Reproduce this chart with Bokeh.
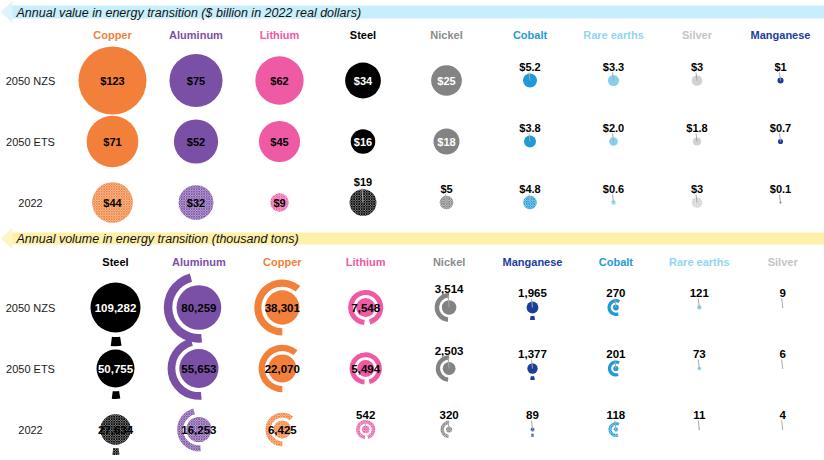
import math
from bokeh.plotting import figure
from bokeh.models import Range1d, ColumnDataSource
from bokeh.embed import file_html
from bokeh.resources import INLINE
from bokeh.core.properties import value

# ---------------- data ----------------
scenarios = ["2050 NZS", "2050 ETS", "2022"]

value_title = "Annual value in energy transition ($ billion in 2022 real dollars)"
value_materials = ["Copper", "Aluminum", "Lithium", "Steel", "Nickel", "Cobalt",
                   "Rare earths", "Silver", "Manganese"]
value_nzs = [123, 75, 62, 34, 25, 5.2, 3.3, 3, 1]
value_ets = [71, 52, 45, 16, 18, 3.8, 2.0, 1.8, 0.7]
value_2022 = [44, 32, 9, 19, 5, 4.8, 0.6, 3, 0.1]
value_nzs_labels = ["$123", "$75", "$62", "$34", "$25", "$5.2", "$3.3", "$3", "$1"]
value_ets_labels = ["$71", "$52", "$45", "$16", "$18", "$3.8", "$2.0", "$1.8", "$0.7"]
value_2022_labels = ["$44", "$32", "$9", "$19", "$5", "$4.8", "$0.6", "$3", "$0.1"]

volume_title = "Annual volume in energy transition (thousand tons)"
volume_materials = ["Steel", "Aluminum", "Copper", "Lithium", "Nickel", "Manganese",
                    "Cobalt", "Rare earths", "Silver"]
volume_nzs = [109282, 80259, 38301, 7548, 3514, 1965, 270, 121, 9]
volume_ets = [50755, 55653, 22070, 5494, 2503, 1377, 201, 73, 6]
volume_2022 = [27634, 16253, 6425, 542, 320, 89, 118, 11, 4]

# ---------------- styles ----------------
fill_colors = {"Copper": "#f2803a", "Aluminum": "#7a50a6", "Lithium": "#ee5aa3",
               "Steel": "#000000", "Nickel": "#838383", "Cobalt": "#1f9ad6",
               "Rare earths": "#88cfef", "Silver": "#d2d2d2", "Manganese": "#1b3d9c"}
head_colors = {"Copper": "#f2803a", "Aluminum": "#7a50a6", "Lithium": "#ee5aa3",
               "Steel": "#000000", "Nickel": "#8c8c8c", "Cobalt": "#1f9ad6",
               "Rare earths": "#92d5f2", "Silver": "#c4c4c4", "Manganese": "#1b3d9c"}
dark = {"Steel", "Nickel"}
# decorative partial rings of the volume bubbles (start, end angle in degrees)
ring_angles = {"Aluminum": (105, 275), "Copper": (50, 270), "Lithium": (-75, 265),
               "Nickel": (90, 265), "Cobalt": (60, 290), "Steel": (263, 279),
               "Manganese": (258, 282)}

FONT = value("Liberation Sans")
W, H = 824, 460

p = figure(width=W, height=H, x_range=Range1d(0, W), y_range=Range1d(0, H),
           output_backend="svg", toolbar_location=None, min_border=0,
           x_axis_location=None, y_axis_location=None)
p.grid.visible = False
p.outline_line_color = None
p.background_fill_color = "white"
p.border_fill_color = "white"


def sy(y):
    return H - y


def banner(top, bottom, color, head_color, title):
    yc = (top + bottom) / 2
    p.quad(left=10, right=W, top=sy(top), bottom=sy(bottom), fill_color=color,
           line_color=None)
    p.patch([0, 12, 12], [sy(yc), sy(yc - 11), sy(yc + 11)], fill_color=head_color,
            line_color=None)
    p.text(x=[16], y=[sy(yc + 0.5)], text=[title], text_font=FONT,
           text_font_size="12.5px", text_font_style="italic", text_color="#111111",
           text_align="left", text_baseline="middle")


def section(materials, series, labels, x0, dx, header_y, rows_y, rfun, rings, label_size):
    xs = [x0 + i * dx for i in range(len(materials))]
    # headers
    p.text(x=xs, y=[sy(header_y)] * len(xs), text=materials, text_font=FONT,
           text_font_size="11px", text_font_style="bold",
           text_color=[head_colors[m] for m in materials],
           text_align="center", text_baseline="middle")
    # row labels
    p.text(x=[30] * 3, y=[sy(y) for y in rows_y], text=scenarios, text_font=FONT,
           text_font_size="11px", text_color="#1a1a1a", text_align="center",
           text_baseline="middle")
    for k, (vals, labs, ry) in enumerate(zip(series, labels, rows_y)):
        hatched = (k == 2)
        cx, cy, rr, cols = [], [], [], []
        rx, ryy, rin, rout, ra0, ra1, rcol = [], [], [], [], [], [], []
        inx, iny, intext, incol = [], [], [], []
        abx, aby, abtext = [], [], []
        lx0, ly0, lx1, ly1 = [], [], [], []
        for i, (m, v, lab) in enumerate(zip(materials, vals, labs)):
            r = rfun(v)
            c = fill_colors[m]
            cx.append(xs[i]); cy.append(sy(ry)); rr.append(r); cols.append(c)
            top_ext = r
            if rings and m in ring_angles:
                a0, a1 = ring_angles[m]
                gap = 2 + 0.1 * r
                thick = 2.5 + 0.27 * r
                rx.append(xs[i]); ryy.append(sy(ry)); rin.append(r + gap)
                rout.append(r + gap + thick); ra0.append(a0); ra1.append(a1)
                rcol.append(c)
                if a0 <= 90 <= a1:
                    top_ext = r + gap + thick
            if rings:
                inside = r >= 8
                tcol = "white" if (m in dark and not hatched) else "black"
                off = max(top_ext + 4, 15)
            else:
                inside = r >= 9 and not (m in dark and hatched)
                tcol = "white" if m in dark else "black"
                off = max(r + 7, 14)
            if inside:
                inx.append(xs[i]); iny.append(sy(ry)); intext.append(lab); incol.append(tcol)
            else:
                ly = ry - off
                abx.append(xs[i]); aby.append(sy(ly)); abtext.append(lab)
                lx0.append(xs[i] - 1); ly0.append(sy(ly + 6))
                lx1.append(xs[i]); ly1.append(sy(ry))
        if hatched:
            kw = dict(fill_alpha=0.3, hatch_pattern="diagonal_cross", hatch_scale=2.5,
                      hatch_weight=1, hatch_alpha=1.0)
        else:
            kw = dict(fill_alpha=1.0)
        src = ColumnDataSource(dict(x=cx, y=cy, r=rr, c=cols))
        if hatched:
            p.circle(x="x", y="y", radius="r", fill_color="c", hatch_color="c",
                     line_color=None, source=src, **kw)
        else:
            p.circle(x="x", y="y", radius="r", fill_color="c", line_color=None,
                     source=src, **kw)
        if rx:
            rsrc = ColumnDataSource(dict(x=rx, y=ryy, ri=rin, ro=rout, a0=ra0, a1=ra1, c=rcol))
            if hatched:
                p.annular_wedge(x="x", y="y", inner_radius="ri", outer_radius="ro",
                                start_angle="a0", end_angle="a1", start_angle_units="deg",
                                end_angle_units="deg", fill_color="c", hatch_color="c",
                                line_color=None, source=rsrc, **kw)
            else:
                p.annular_wedge(x="x", y="y", inner_radius="ri", outer_radius="ro",
                                start_angle="a0", end_angle="a1", start_angle_units="deg",
                                end_angle_units="deg", fill_color="c", line_color=None,
                                source=rsrc, **kw)
        if lx0:
            p.segment(x0=lx0, y0=ly0, x1=lx1, y1=ly1, line_color="#a8a8a8", line_width=1)
        if inx:
            p.text(x=inx, y=iny, text=intext, text_font=FONT, text_font_size=label_size,
                   text_font_style="bold", text_color=incol, text_align="center",
                   text_baseline="middle")
        if abx:
            p.text(x=abx, y=aby, text=abtext, text_font=FONT, text_font_size=label_size,
                   text_font_style="bold", text_color="black", text_align="center",
                   text_baseline="middle")


def fmt(vals):
    return ["{:,}".format(v) for v in vals]


banner(5, 18, "#c8eefb", "#dcf4fd", value_title)
section(value_materials, [value_nzs, value_ets, value_2022],
        [value_nzs_labels, value_ets_labels, value_2022_labels],
        112, 83.5, 34, [80, 141, 202], lambda v: 3.066 * math.sqrt(v), False, "11px")

banner(232, 244, "#fdf0a8", "#fdf5c8", volume_title)
section(volume_materials, [volume_nzs, volume_ets, volume_2022],
        [fmt(volume_nzs), fmt(volume_ets), fmt(volume_2022)],
        115, 83.4, 261, [307, 368, 429], lambda v: 25 * (v / 109282) ** 0.36, True,
        "11.5px")

open("out.html", "w").write(file_html(p, INLINE))
